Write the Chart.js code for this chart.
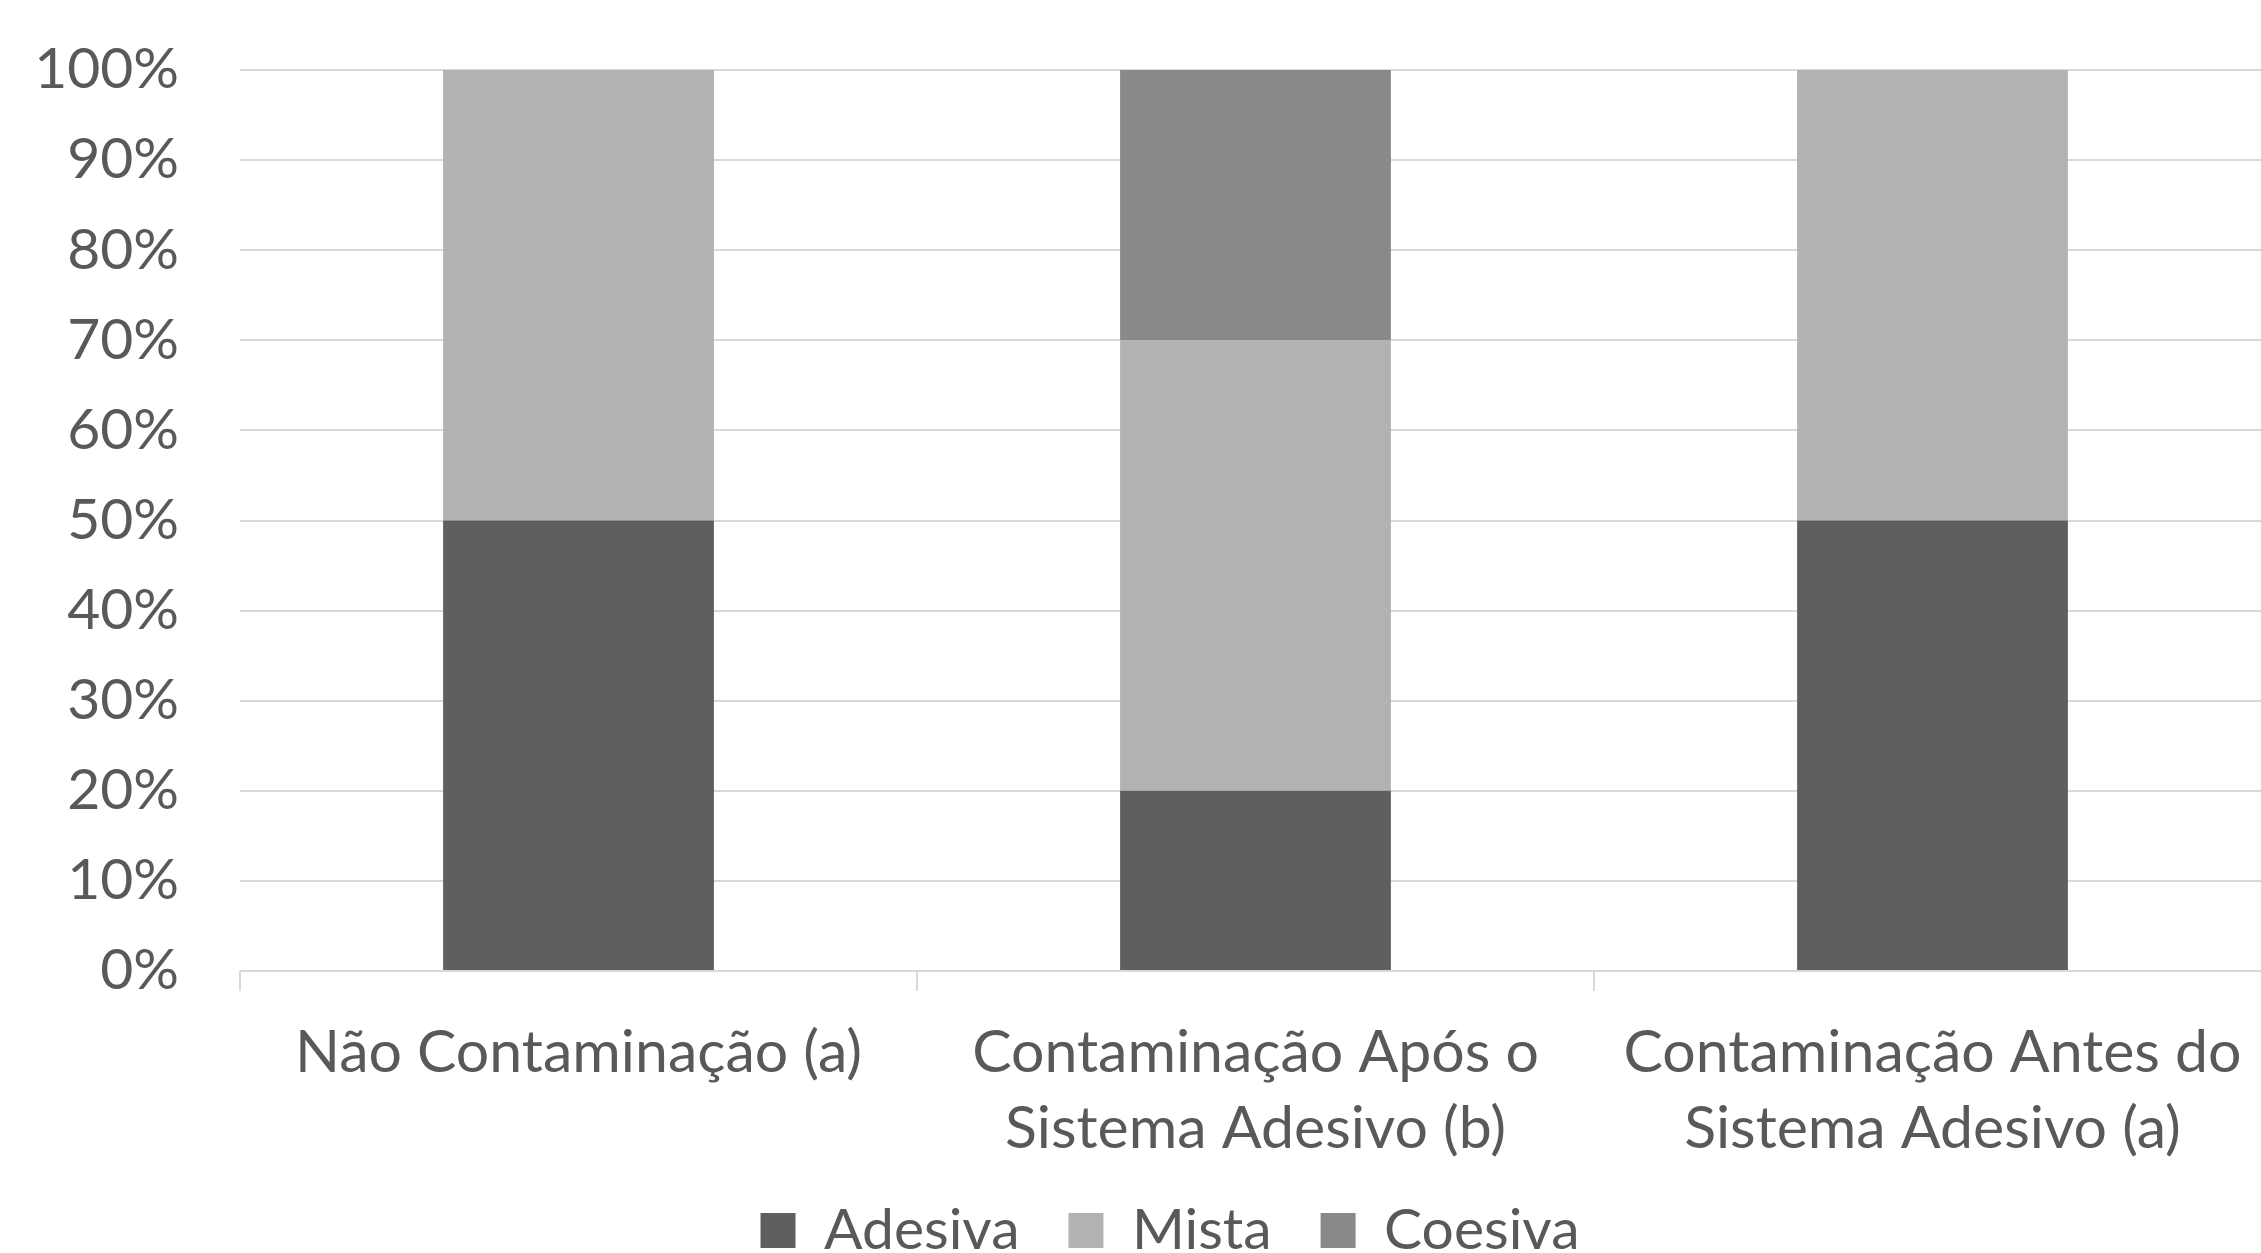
<!DOCTYPE html>
<html>
<head>
<meta charset="utf-8">
<script src="https://cdn.jsdelivr.net/npm/chart.js@4.4.0/dist/chart.umd.min.js"></script>
<style>
  html, body { margin: 0; padding: 0; background: #fff; overflow: hidden; }
  #wrap { width: 2275px; height: 1269px; }
</style>
</head>
<body>
<div id="wrap"><canvas id="chart" width="2275" height="1269"></canvas></div>
<script>
// values
const categories = [
  'Não Contaminação (a)',
  ['Contaminação Após o', 'Sistema Adesivo (b)'],
  ['Contaminação Antes do', 'Sistema Adesivo (a)']
];
const adesiva = [50, 20, 50];
const mista = [50, 50, 50];
const coesiva = [0, 30, 0];
const yTicks = [0, 10, 20, 30, 40, 50, 60, 70, 80, 90, 100];

const textColor = '#595959';
const gridColor = '#d9d9d9';
const fontFamily = 'Lato, "Open Sans", sans-serif';

// labels sit a bit outside their axis boxes, so don't clip them
const noLabelClip = (scale) => { scale._computeLabelArea = () => undefined; };

const ctx = document.getElementById('chart');

new Chart(ctx, {
  type: 'bar',
  data: {
    labels: categories,
    datasets: [
      { label: 'Adesiva', data: adesiva, backgroundColor: '#5f5f5f' },
      { label: 'Mista', data: mista, backgroundColor: '#b2b2b2' },
      { label: 'Coesiva', data: coesiva, backgroundColor: '#898989' }
    ]
  },
  options: {
    responsive: false,
    animation: false,
    devicePixelRatio: 1,
    barPercentage: 0.4,
    categoryPercentage: 1,
    layout: {
      padding: { top: 70, left: 69, right: 4, bottom: 0 }
    },
    plugins: {
      tooltip: { enabled: false },
      legend: {
        position: 'bottom',
        labels: {
          color: textColor,
          font: { family: fontFamily, size: 57 },
          boxWidth: 35,
          boxHeight: 35,
          padding: 49
        }
      }
    },
    scales: {
      x: {
        stacked: true,
        offset: true,
        afterFit: (scale) => { scale.height = 182; noLabelClip(scale); },
        grid: {
          offset: true,
          drawOnChartArea: false,
          drawTicks: true,
          tickLength: 20,
          color: gridColor,
          lineWidth: 2
        },
        border: { display: false },
        ticks: {
          color: textColor,
          font: { family: fontFamily, size: 59, lineHeight: 76 / 59 },
          padding: 24,
          maxRotation: 0,
          autoSkip: false
        }
      },
      y: {
        stacked: true,
        min: 0,
        max: 100,
        afterFit: (scale) => { scale.width = 171; noLabelClip(scale); },
        afterBuildTicks: (scale) => { scale.ticks = yTicks.map(v => ({ value: v })); },
        grid: {
          color: gridColor,
          lineWidth: 2,
          // invisible tick marks give the gap between labels and plot
          drawTicks: true,
          tickLength: 61,
          tickColor: 'rgba(0,0,0,0)'
        },
        border: { display: false },
        ticks: {
          color: textColor,
          font: { family: fontFamily, size: 57 },
          padding: 0,
          callback: (value) => value + '%'
        }
      }
    }
  }
});
</script>
</body>
</html>
